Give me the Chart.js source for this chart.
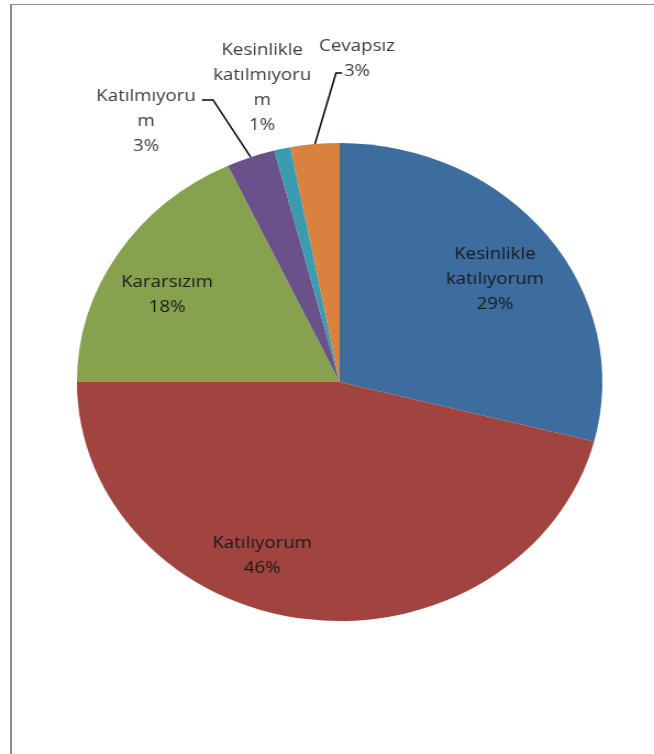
<!DOCTYPE html>
<html>
<head>
<meta charset="utf-8">
<script src="https://cdn.jsdelivr.net/npm/chart.js@4/dist/chart.umd.min.js"></script>
<style>
  html, body { margin: 0; padding: 0; background: #ffffff; }
  body { width: 654px; height: 754px; position: relative; overflow: hidden; }
  #frameTop { position: absolute; left: 10px; top: 4px; width: 644px; height: 1px; background: #8c8c8c; }
  #frameLeft { position: absolute; left: 10px; top: 4px; width: 2px; height: 750px; background: #8c8c8c; }
  #wrap { position: absolute; left: 0; top: 0; width: 595px; height: 754px;
          transform: scaleX(1.0992); transform-origin: 0 0; }
</style>
</head>
<body>
<div id="frameTop"></div>
<div id="frameLeft"></div>
<div id="wrap"><canvas id="chart" width="595" height="754"></canvas></div>
<script>
// Survey answers and their shares (percent)
const categories = ['Kesinlikle katılıyorum', 'Katılıyorum', 'Kararsızım', 'Katılmıyorum', 'Kesinlikle katılmıyorum', 'Cevapsız'];
const shares = [29, 46, 18, 3, 1, 3];
// How each category name is wrapped in its data label
const labelLines = [
  ['Kesinlikle', 'katılıyorum'],
  ['Katılıyorum'],
  ['Kararsızım'],
  ['Katılmıyoru', 'm'],
  ['Kesinlikle', 'katılmıyoru', 'm'],
  ['Cevapsız']
];

const sliceColors = ['#3d6c9e', '#a1443f', '#87a24f', '#6b5189', '#3b9bb1', '#d98240'];

// Label anchors relative to the pie centre, in units of the pie radius;
// outside labels also get a leader line with an elbow.
const placement = [
  { dx: 0.591, dy: -0.431, inside: true },
  { dx: -0.295, dy: 0.726, inside: true },
  { dx: -0.657, dy: -0.366, inside: true },
  { dx: -0.737, dy: -1.09, inside: false, leader: { ex: -0.482, ey: -1.18, tx: -0.524 } },
  { dx: -0.295, dy: -1.232, inside: false },
  { dx: 0.066, dy: -1.351, inside: false, leader: { ex: -0.014, ey: -1.293, tx: 0.009 } }
];

const LINE_H = 25;

const dataLabels = {
  id: 'dataLabels',
  afterDatasetsDraw(chart) {
    const ctx = chart.ctx;
    const meta = chart.getDatasetMeta(0);
    ctx.save();
    ctx.font = '17px "Open Sans", sans-serif';
    ctx.textAlign = 'center';
    ctx.textBaseline = 'middle';
    meta.data.forEach((arc, i) => {
      const p = arc.getProps(['x', 'y', 'startAngle', 'endAngle', 'outerRadius'], true);
      const R = p.outerRadius;
      const cfg = placement[i];
      if (cfg.leader) {
        const mid = (p.startAngle + p.endAngle) / 2;
        const ax = p.x + Math.cos(mid) * R;
        const ay = p.y + Math.sin(mid) * R;
        ctx.beginPath();
        ctx.strokeStyle = '#000000';
        ctx.lineWidth = 1.5;
        ctx.moveTo(ax, ay);
        ctx.lineTo(p.x + cfg.leader.ex * R, p.y + cfg.leader.ey * R);
        ctx.lineTo(p.x + cfg.leader.tx * R, p.y + cfg.leader.ey * R);
        ctx.stroke();
      }
      const lines = labelLines[i].concat([chart.data.datasets[0].data[i] + '%']);
      const cx = p.x + cfg.dx * R;
      const cy = p.y + cfg.dy * R;
      ctx.fillStyle = cfg.inside ? '#1a1a1a' : '#3c3c3c';
      lines.forEach((t, k) => {
        ctx.fillText(t, cx, cy + (k - (lines.length - 1) / 2) * LINE_H);
      });
    });
    ctx.restore();
  }
};

new Chart(document.getElementById('chart'), {
  type: 'pie',
  data: {
    labels: categories,
    datasets: [{
      data: shares,
      backgroundColor: sliceColors,
      borderWidth: 0
    }]
  },
  options: {
    responsive: false,
    animation: false,
    layout: { padding: { left: 70, right: 47, top: 143, bottom: 133 } },
    plugins: {
      legend: { display: false },
      tooltip: { enabled: false }
    }
  },
  plugins: [dataLabels]
});
</script>
</body>
</html>
